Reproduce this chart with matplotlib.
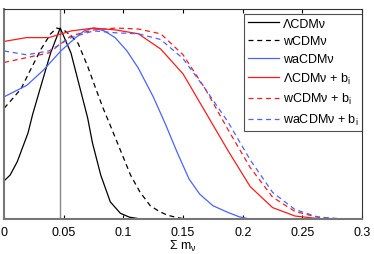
import numpy as np
import matplotlib
matplotlib.use('Agg')
import matplotlib.pyplot as plt

plt.rcParams['font.family'] = ['Liberation Sans', 'DejaVu Sans']
plt.rcParams['mathtext.default'] = 'regular'

# Curvas (soma das massas dos neutrinos vs. probabilidade normalizada)
x_lcdm = [0, 0.005, 0.011, 0.02, 0.024, 0.031, 0.039, 0.047, 0.056, 0.063, 0.070, 0.074,
          0.081, 0.089, 0.0975, 0.105, 0.113, 0.12]
y_lcdm = [0.2, 0.23, 0.30, 0.45, 0.55, 0.70, 0.87, 1.0, 0.87, 0.70, 0.53, 0.40,
          0.23, 0.09, 0.03, 0.01, 0.002, 0.0]

x_wcdm = [0, 0.007, 0.014, 0.022, 0.031, 0.039, 0.044, 0.050, 0.056, 0.062, 0.070, 0.077,
          0.083, 0.089, 0.0975, 0.106, 0.114, 0.1225, 0.13, 0.137, 0.145, 0.152]
y_wcdm = [0.58, 0.63, 0.68, 0.78, 0.89, 0.97, 1.0, 0.99, 0.96, 0.92, 0.80, 0.68,
          0.58, 0.49, 0.36, 0.23, 0.14, 0.07, 0.04, 0.02, 0.008, 0.0]

x_wacdm = [0, 0.019, 0.033, 0.0475, 0.06, 0.067, 0.075, 0.084, 0.093, 0.103, 0.1125, 0.125,
           0.135, 0.145, 0.155, 0.164, 0.175, 0.1875, 0.197, 0.206]
y_wacdm = [0.64, 0.70, 0.78, 0.88, 0.95, 0.985, 1.0, 0.985, 0.95, 0.88, 0.79, 0.64,
           0.50, 0.35, 0.21, 0.13, 0.07, 0.035, 0.012, 0.0]

# curvas com b_i: bins grossos
x_bi = [0, 0.01875, 0.0375, 0.05625, 0.075, 0.09375, 0.1125, 0.13125, 0.15, 0.16875,
        0.1875, 0.20625, 0.225, 0.24375, 0.2625, 0.28125, 0.3]
y_lcdm_bi = [0.93, 0.95, 0.95, 0.985, 1.0, 0.99, 0.97, 0.89, 0.76, 0.56,
             0.36, 0.17, 0.06, 0.016, 0.003, 0.0, 0.0]
y_wcdm_bi = [0.82, 0.845, 0.87, 0.96, 0.99, 1.0, 0.995, 0.97, 0.86, 0.68,
             0.47, 0.27, 0.115, 0.04, 0.01, 0.002, 0.0]
y_wacdm_bi = [0.88, 0.86, 0.88, 0.95, 0.985, 0.975, 0.97, 0.94, 0.84, 0.68,
              0.51, 0.31, 0.14, 0.05, 0.012, 0.0, 0.0]

m_fid = 0.047
xticks = [0, 0.05, 0.1, 0.15, 0.2, 0.25, 0.3]
xticklabels = ['0', '0.05', '0.1', '0.15', '0.2', '0.25', '0.3']

azul = '#4a63ff'
verm = '#ff1a1a'

fig = plt.figure(figsize=(3.74, 2.55), dpi=100)
ax = fig.add_axes([0.011, 0.137, 0.957, 0.824])

ax.axvline(m_fid, color='#888888', lw=1.0)

ax.plot(x_lcdm, y_lcdm, color='black', lw=0.9, label='ΛCDMν')
ax.plot(x_wcdm, y_wcdm, color='black', lw=0.9, ls=(0, (4, 3)), label='wCDMν')
ax.plot(x_wacdm, y_wacdm, color=azul, lw=0.9, label='waCDMν')
ax.plot(x_bi, y_lcdm_bi, color=verm, lw=0.9, label='ΛCDMν + b$_i$')
ax.plot(x_bi, y_wcdm_bi, color=verm, lw=0.9, ls=(0, (4, 3)), label='wCDMν + b$_i$')
ax.plot(x_bi, y_wacdm_bi, color=azul, lw=0.9, ls=(0, (4, 3)), label='waCDMν + b$_i$')

ax.set_xlim(0, 0.3)
ax.set_ylim(0, 1.1)
ax.set_xticks(xticks)
ax.set_xticklabels(xticklabels, fontsize=9)
ax.set_yticks([])
ax.tick_params(axis='x', direction='in', top=True, length=3, pad=5)
ax.set_xlabel('Σ m$_ν$', fontsize=9, labelpad=0)

for s in ['left', 'bottom']:
    ax.spines[s].set_color('#777777')
    ax.spines[s].set_linewidth(1.5)
for s in ['top', 'right']:
    ax.spines[s].set_color('#333333')
    ax.spines[s].set_linewidth(0.8)

leg = ax.legend(loc='upper right', bbox_to_anchor=(1.0, 1 - 5 / 210), fontsize=9,
                frameon=True, fancybox=False, edgecolor='#222222', handlelength=2.5,
                handletextpad=0.3, labelspacing=0.45, borderaxespad=0.0, borderpad=0.3)
leg.get_frame().set_linewidth(0.8)

plt.savefig('out.png', dpi=100)
